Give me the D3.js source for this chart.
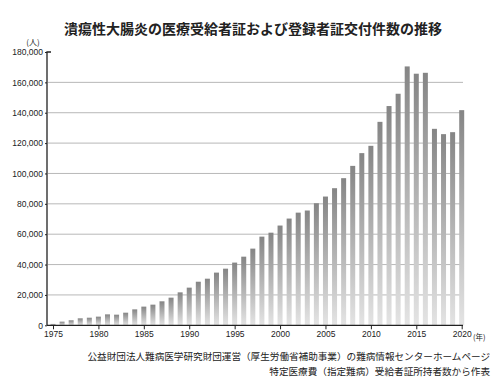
<!DOCTYPE html>
<html><head><meta charset="utf-8">
<script src="https://cdn.jsdelivr.net/npm/d3@7"></script>
<style>
html,body{margin:0;padding:0;background:#fff;}
svg{display:block;}
</style></head>
<body>
<svg id="chart" width="500" height="391"></svg>
<script>
const years = d3.range(1975, 2021);
const values = [900, 2400, 3300, 4600, 5000, 5700, 7200, 7000, 8300, 10500,
  12300, 13600, 15800, 18200, 21700, 24800, 28700, 30700, 34700, 37300,
  41300, 45200, 50500, 58400, 61000, 65700, 70300, 74200, 75600, 80400,
  84800, 90300, 96900, 105000, 113400, 118200, 134000, 144400, 152500, 170500,
  165700, 166300, 129400, 125900, 127200, 141700];
const yTicks = [0, 20000, 40000, 60000, 80000, 100000, 120000, 140000, 160000, 180000];
const xTicks = [1975, 1980, 1985, 1990, 1995, 2000, 2005, 2010, 2015, 2020];
const title = "潰瘍性大腸炎の医療受給者証および登録者証交付件数の推移";
const source1 = "公益財団法人難病医学研究財団運営（厚生労働省補助事業）の難病情報センターホームページ";
const source2 = "特定医療費（指定難病）受給者証所持者数から作表";

const svg = d3.select("#chart");
const jp = "'Noto Sans CJK JP', 'Noto Sans', sans-serif";
const num = "'Liberation Sans', Arial, sans-serif";

const x = d3.scaleLinear().domain([1975, 2020]).range([53, 461.7]);
const y = d3.scaleLinear().domain([0, 180000]).range([325.3, 52]);
const axisX = 47;
const barW = 5;

const defs = svg.append("defs");
const grad = defs.append("linearGradient").attr("id", "barGrad")
  .attr("x1", 0).attr("y1", 0).attr("x2", 0).attr("y2", 1);
grad.append("stop").attr("offset", "0%").attr("stop-color", "#858585");
grad.append("stop").attr("offset", "100%").attr("stop-color", "#e4e4e4");

// title
svg.append("text").attr("x", 253).attr("y", 34).attr("text-anchor", "middle")
  .attr("font-family", jp).attr("font-size", 14).attr("font-weight", 700)
  .attr("fill", "#222").text(title);

// gridlines
svg.append("g").selectAll("line").data(yTicks.filter(d => d > 0 && d < 180000)).join("line")
  .attr("x1", axisX + 1).attr("x2", 463)
  .attr("y1", d => y(d)).attr("y2", d => y(d))
  .attr("stroke", "#b8b8b8").attr("stroke-width", 1);

// bars
svg.append("g").selectAll("rect").data(values).join("rect")
  .attr("x", (d, i) => x(years[i]) - barW / 2)
  .attr("y", d => y(d))
  .attr("width", barW)
  .attr("height", d => y(0) - y(d))
  .attr("fill", "url(#barGrad)");

// y axis
const gy = svg.append("g").attr("transform", `translate(${axisX},0)`)
  .call(d3.axisLeft(y).tickValues(yTicks).tickSize(2).tickFormat(d3.format(",")));
gy.select(".domain").attr("stroke", "#222").attr("stroke-width", 1.3)
  .attr("d", `M4,${y(180000)}H0V${y(0)}`);
gy.selectAll(".tick line").attr("stroke", "#222");
gy.selectAll(".tick text").attr("font-family", num).attr("font-size", 8.5)
  .attr("fill", "#222").attr("x", -4);

svg.append("text").attr("x", 33).attr("y", 45).attr("text-anchor", "middle")
  .attr("font-family", jp).attr("font-size", 8).attr("fill", "#222").text("(人)");

// x axis
const gx = svg.append("g").attr("transform", `translate(0,${y(0)})`)
  .call(d3.axisBottom(x).tickValues(xTicks).tickSize(4).tickFormat(d3.format("d")));
gx.select(".domain").attr("stroke", "#222").attr("stroke-width", 1.3)
  .attr("d", `M${axisX},0H463`);
gx.selectAll(".tick line").attr("stroke", "#222");
gx.selectAll(".tick text").attr("font-family", num).attr("font-size", 8.5)
  .attr("fill", "#222").attr("y", 6);
svg.append("text").attr("x", 473).attr("y", 340)
  .attr("font-family", jp).attr("font-size", 7.5).attr("fill", "#222").text("(年)");

// source
svg.append("text").attr("x", 490).attr("y", 360).attr("text-anchor", "end")
  .attr("font-family", jp).attr("font-size", 9.6).attr("fill", "#222").text(source1);
svg.append("text").attr("x", 490).attr("y", 375).attr("text-anchor", "end")
  .attr("font-family", jp).attr("font-size", 9.6).attr("fill", "#222").text(source2);
</script>
</body></html>
